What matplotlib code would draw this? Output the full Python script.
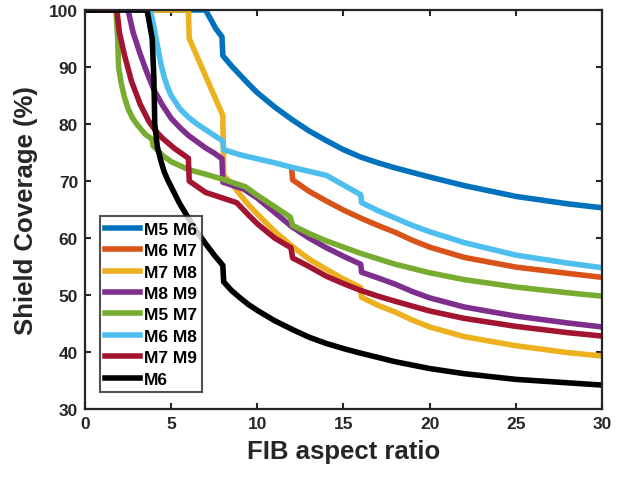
import numpy as np
import matplotlib.pyplot as plt

plt.rcParams['font.family'] = ['Liberation Sans', 'DejaVu Sans']
plt.rcParams['font.weight'] = 'bold'

# shield coverage (%) vs FIB aspect ratio for each metal layer pair
m5m6_x = [0, 7.0, 7.6, 7.95, 8.0, 8.5, 9, 9.5, 10, 11, 12, 13, 14, 15, 16, 17, 18, 20, 22, 25, 28, 30]
m5m6_y = [100, 100, 96.7, 95.3, 92.0, 90.2, 88.6, 87.0, 85.5, 83.0, 80.8, 78.8, 77.1, 75.5, 74.2, 73.2, 72.3, 70.7, 69.2, 67.3, 66.0, 65.3]

m6m7_x = [12, 12.05, 13, 14, 15, 16, 17, 18, 19, 20, 22, 25, 28, 30]
m6m7_y = [71.9, 70.2, 68.2, 66.5, 64.9, 63.5, 62.2, 61.0, 59.6, 58.4, 56.6, 54.9, 53.8, 53.1]

m7m8_x = [0, 6.0, 6.05, 8.0, 8.05, 8.6, 9, 9.5, 10, 11, 12, 13, 14, 15, 16, 16.05, 17, 18, 19, 20, 22, 25, 28, 30]
m7m8_y = [100, 100, 95.0, 81.5, 71.0, 69.2, 67.6, 65.8, 64.2, 61.2, 58.6, 56.3, 54.5, 52.8, 51.3, 49.6, 48.2, 47.0, 45.6, 44.4, 42.7, 41.1, 39.9, 39.3]

m8m9_x = [0, 2.5, 2.8, 3.2, 3.6, 4.0, 4.5, 5.0, 5.5, 6, 6.5, 7, 7.5, 7.95, 8.0, 9.2, 10, 11, 12, 13, 14, 15, 16, 16.05, 17, 18, 19, 20, 22, 25, 28, 30]
m8m9_y = [100, 100, 96.0, 92.3, 89.0, 86.0, 83.3, 81.0, 79.4, 78.0, 76.9, 75.8, 74.9, 73.9, 69.8, 68.6, 67.0, 64.5, 62.0, 60.0, 58.3, 56.8, 55.4, 54.0, 53.0, 51.9, 50.6, 49.5, 47.9, 46.3, 45.1, 44.4]

m5m7_x = [0, 1.8, 1.9, 1.95, 2.1, 2.3, 2.5, 2.75, 3.0, 3.5, 3.9, 3.95, 4.5, 5, 6, 7, 8, 9.3, 10, 11, 11.9, 12.05, 13, 14, 15, 16, 18, 20, 22, 25, 28, 30]
m5m7_y = [100, 100, 95.0, 90.0, 87.2, 84.6, 82.7, 81.1, 80.0, 78.2, 77.3, 76.2, 74.5, 73.4, 72.0, 71.2, 70.3, 69.0, 67.5, 65.5, 63.7, 62.2, 60.8, 59.5, 58.4, 57.3, 55.4, 53.9, 52.7, 51.4, 50.4, 49.8]

m6m8_x = [0, 3.8, 4.0, 4.2, 4.4, 4.6, 4.8, 5.0, 5.5, 6, 6.5, 7, 7.5, 8, 8.05, 9, 10, 11, 12, 13, 14, 15, 16, 16.05, 17, 18, 19, 20, 22, 25, 28, 30]
m6m8_y = [100, 100, 97.0, 93.8, 90.6, 88.2, 86.4, 85.0, 82.7, 81.2, 80.0, 79.0, 78.0, 77.0, 75.5, 74.6, 73.9, 73.2, 72.4, 71.7, 71.0, 69.3, 67.6, 66.2, 64.8, 63.5, 62.2, 61.1, 59.2, 57.0, 55.6, 54.8]

m7m9_x = [0, 1.85, 2.0, 2.3, 2.7, 3.2, 3.7, 4.1, 4.5, 5.2, 6.0, 6.05, 7.0, 8.0, 8.8, 9.5, 10, 11, 11.95, 12.05, 13, 14, 15, 16, 17, 18, 20, 22, 25, 28, 30]
m7m9_y = [100, 100, 96.0, 92.0, 87.5, 83.5, 80.5, 78.8, 77.5, 75.7, 74.0, 70.0, 68.0, 67.0, 66.2, 64.0, 62.5, 60.0, 58.3, 56.5, 55.0, 53.3, 52.0, 50.8, 49.8, 48.9, 47.2, 45.9, 44.5, 43.4, 42.8]

m6_x = [0, 3.6, 3.9, 4.0, 4.05, 4.2, 4.4, 4.6, 4.8, 5.0, 5.5, 6.0, 6.5, 7.0, 7.5, 8.0, 8.05, 8.5, 9, 9.5, 10, 11, 12, 13, 14, 15, 16, 18, 20, 22, 25, 28, 30]
m6_y = [100, 100, 95.0, 88.0, 80.0, 76.0, 73.6, 71.6, 70.2, 69.0, 66.0, 63.5, 61.1, 59.0, 57.0, 55.2, 52.3, 50.8, 49.5, 48.3, 47.3, 45.5, 44.0, 42.6, 41.5, 40.6, 39.8, 38.3, 37.1, 36.2, 35.2, 34.6, 34.2]

labels = ['M5 M6', 'M6 M7', 'M7 M8', 'M8 M9', 'M5 M7', 'M6 M8', 'M7 M9', 'M6']
series = [(m5m6_x, m5m6_y), (m6m7_x, m6m7_y), (m7m8_x, m7m8_y), (m8m9_x, m8m9_y),
          (m5m7_x, m5m7_y), (m6m8_x, m6m8_y), (m7m9_x, m7m9_y), (m6_x, m6_y)]
colors = ['#0072BD', '#D95319', '#EDB120', '#7E2F8E',
          '#77AC30', '#4DBEEE', '#A2142F', '#000000']

fig = plt.figure(figsize=(6.36, 4.81), dpi=100)
ax = fig.add_axes([0.1336, 0.1476, 0.8129, 0.8295])

for (x, y), c, lab in zip(series, colors, labels):
    ax.plot(x, y, color=c, lw=4, label=lab, solid_joinstyle='round')

ax.set_xlim(0, 30)
ax.set_ylim(30, 100)
ax.set_xticks(np.arange(0, 31, 5))
ax.set_yticks(np.arange(30, 101, 10))

for s in ax.spines.values():
    s.set_linewidth(1.6)
    s.set_color('#262626')
ax.tick_params(direction='in', length=4, width=1.5, top=True, right=True,
               labelsize=12.5, colors='#262626', labelcolor='#262626', pad=5)

ax.set_xlabel('FIB aspect ratio', fontsize=18.5, fontweight='bold', color='#262626', labelpad=6)
ax.set_ylabel('Shield Coverage (%)', fontsize=18.5, fontweight='bold', color='#262626', labelpad=8)

leg = ax.legend(loc='lower left', bbox_to_anchor=(0.029, 0.043), borderaxespad=0,
                fontsize=12.5, frameon=True, fancybox=False, handlelength=2.0,
                handletextpad=0.25, labelspacing=0.36, borderpad=0.3)
leg.get_frame().set_edgecolor('#262626')
leg.get_frame().set_linewidth(1.5)
for h in leg.get_lines():
    h.set_linewidth(4)
for t in leg.get_texts():
    t.set_fontweight('bold')

fig.savefig('out.png', dpi=100)
